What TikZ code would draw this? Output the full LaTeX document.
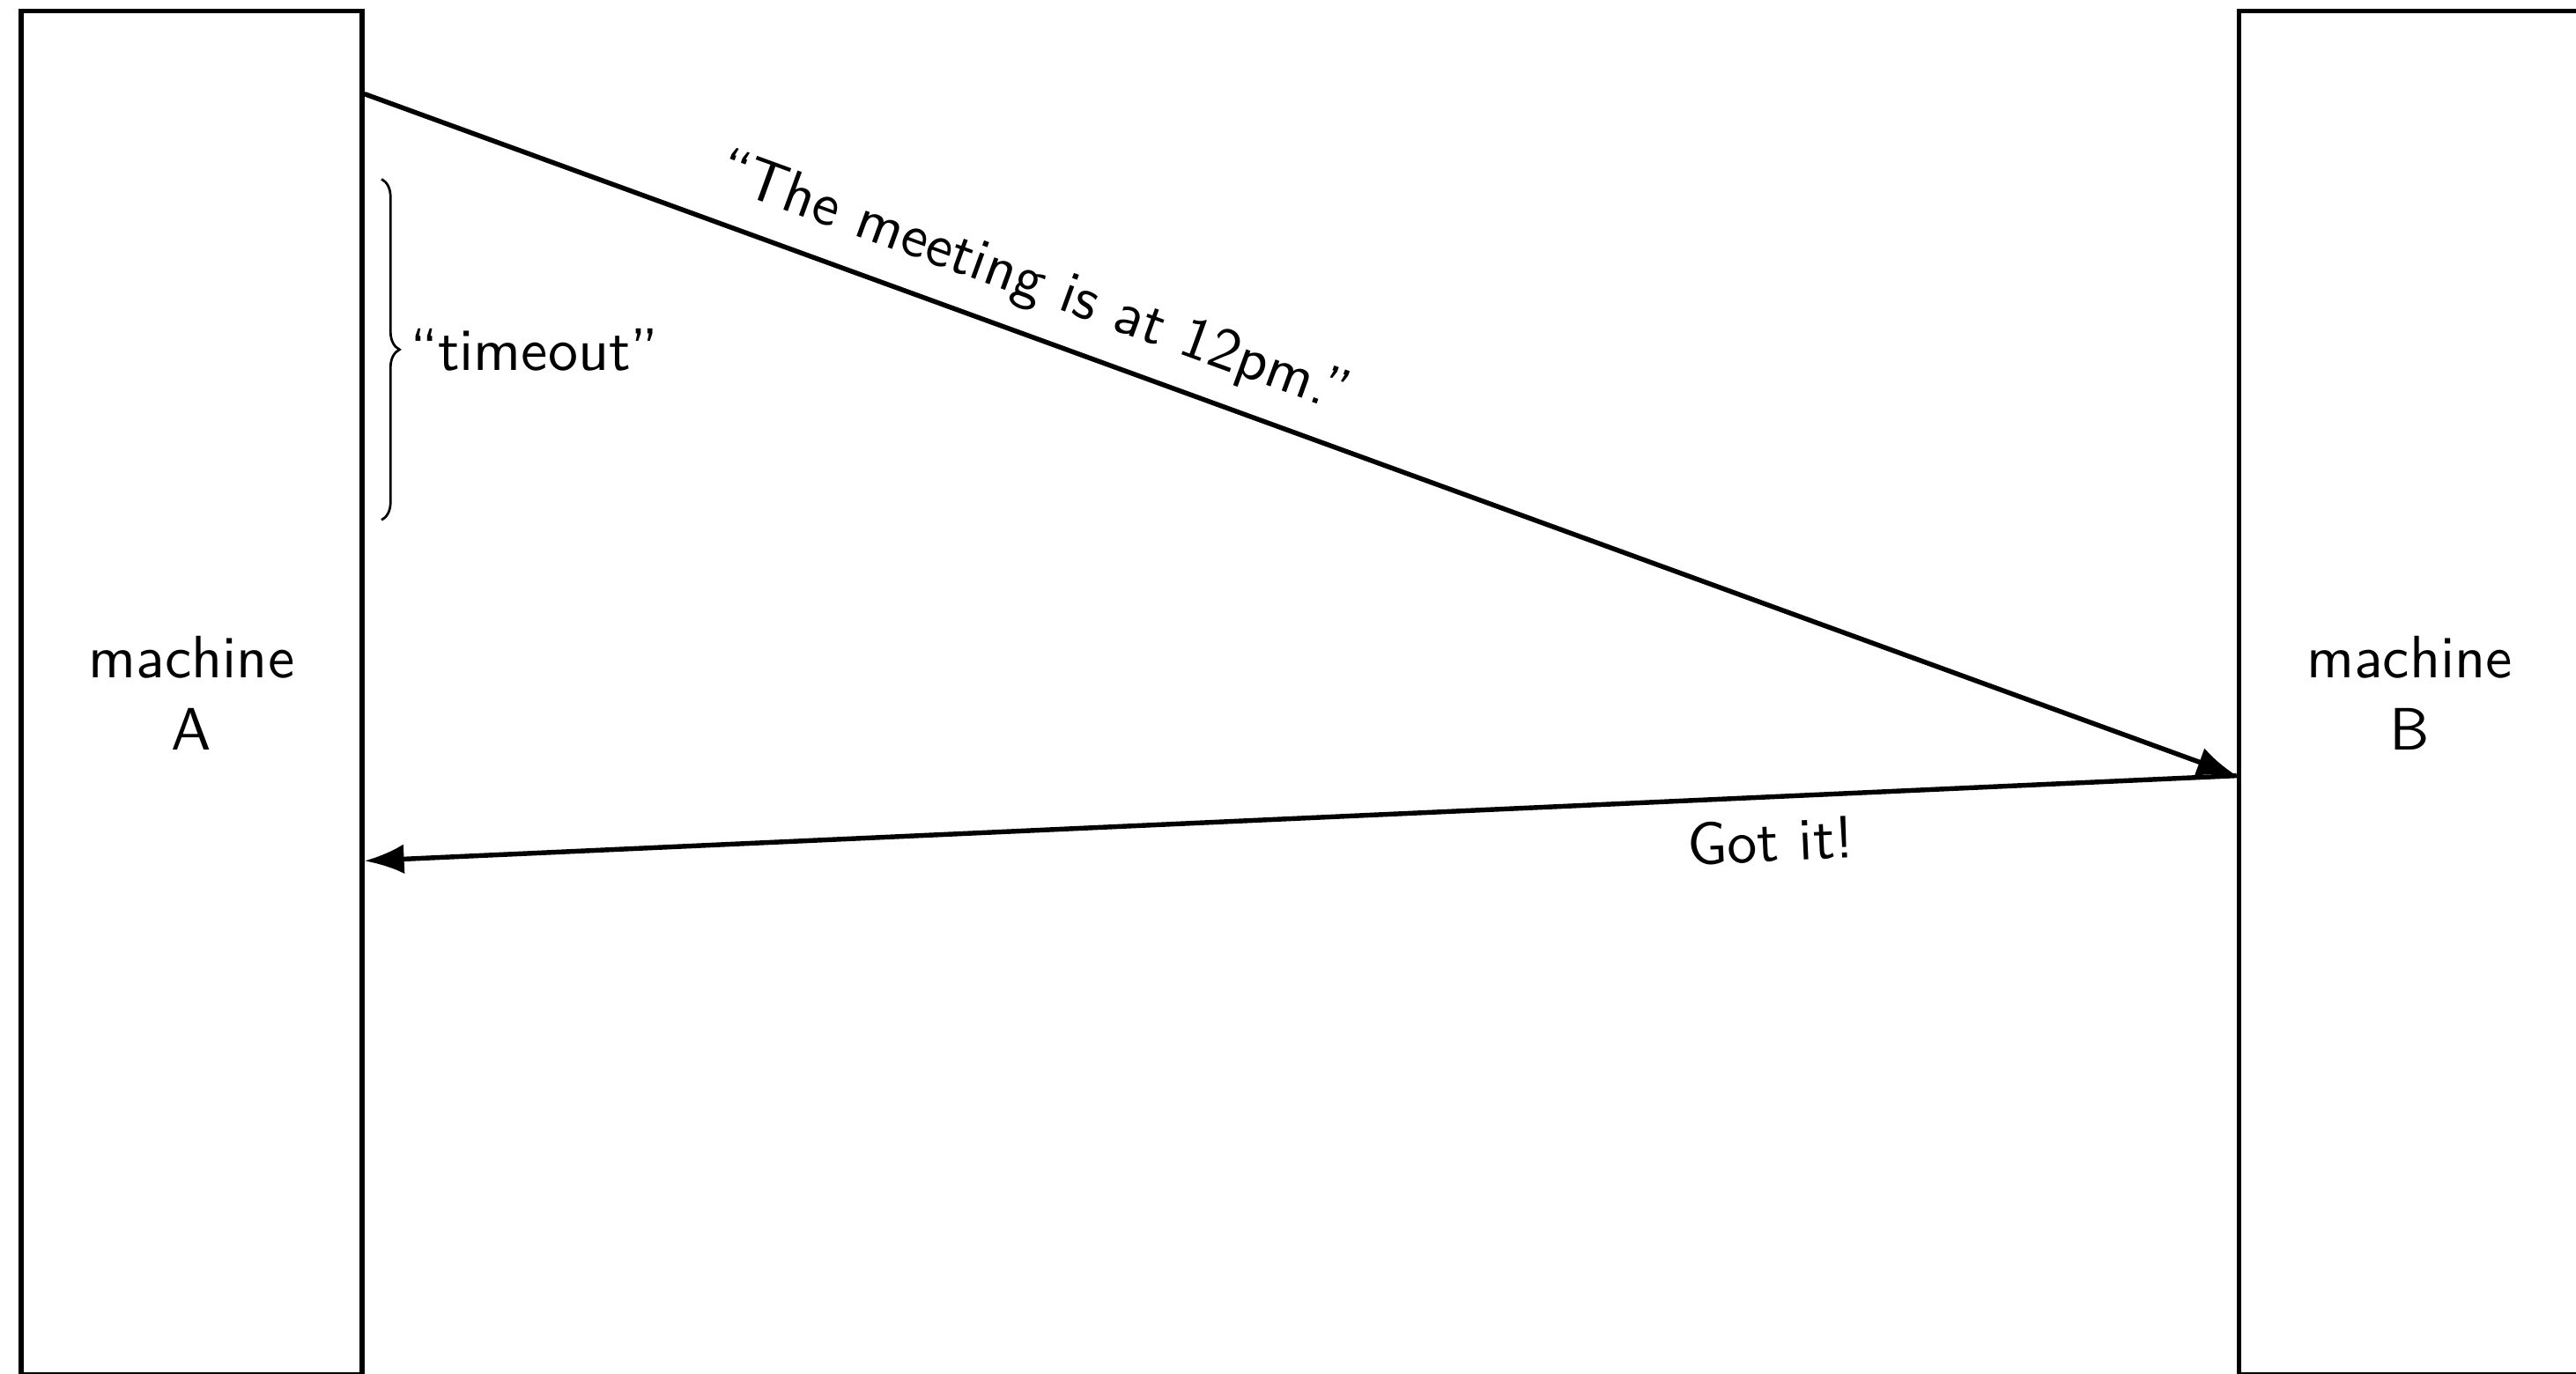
\documentclass[tikz,border=0pt]{standalone}
\usepackage{tikz}
\usetikzlibrary{arrows.meta,positioning,calc,decorations.pathreplacing}
\tikzset{
  machine/.style={draw,thick,minimum width=2cm,minimum height=8cm,align=center,
    inner sep=0pt},
  msg/.style={-{Latex[length=6.6pt]},thick},
  timer/.style={decorate,decoration={brace,amplitude=3pt}},
}

\begin{document}
\begin{tikzpicture}[font=\sffamily]
  \useasboundingbox (-0.124,0.065) rectangle (14.987,-7.992);
  \node[machine] (machA) at (1,-4) {machine\\A};
  \node[machine] (machB) at (14.01,-4) {machine\\B};
  \coordinate[below=0.5cm of machA.north east] (sent);
  \coordinate[below=4.5cm of machB.north west] (recv);
  \coordinate[below=5cm of machA.north east] (ack);
  \draw[msg] (sent) -- (recv) node[pos=0.348,sloped,above=0pt] {``The meeting is at 12pm.''};
  \draw[msg] (recv) -- (ack) node[pos=0.25,sloped,below] {Got it!};
  \coordinate[below=1cm of machA.north east,xshift=0.1cm] (waitTop);
  \coordinate[below=3cm of machA.north east,xshift=0.1cm] (waitBot);
  \draw[timer] (waitTop) -- (waitBot) node[midway,right=3pt,inner sep=1.5pt] {``timeout''};
\end{tikzpicture}
\end{document}
